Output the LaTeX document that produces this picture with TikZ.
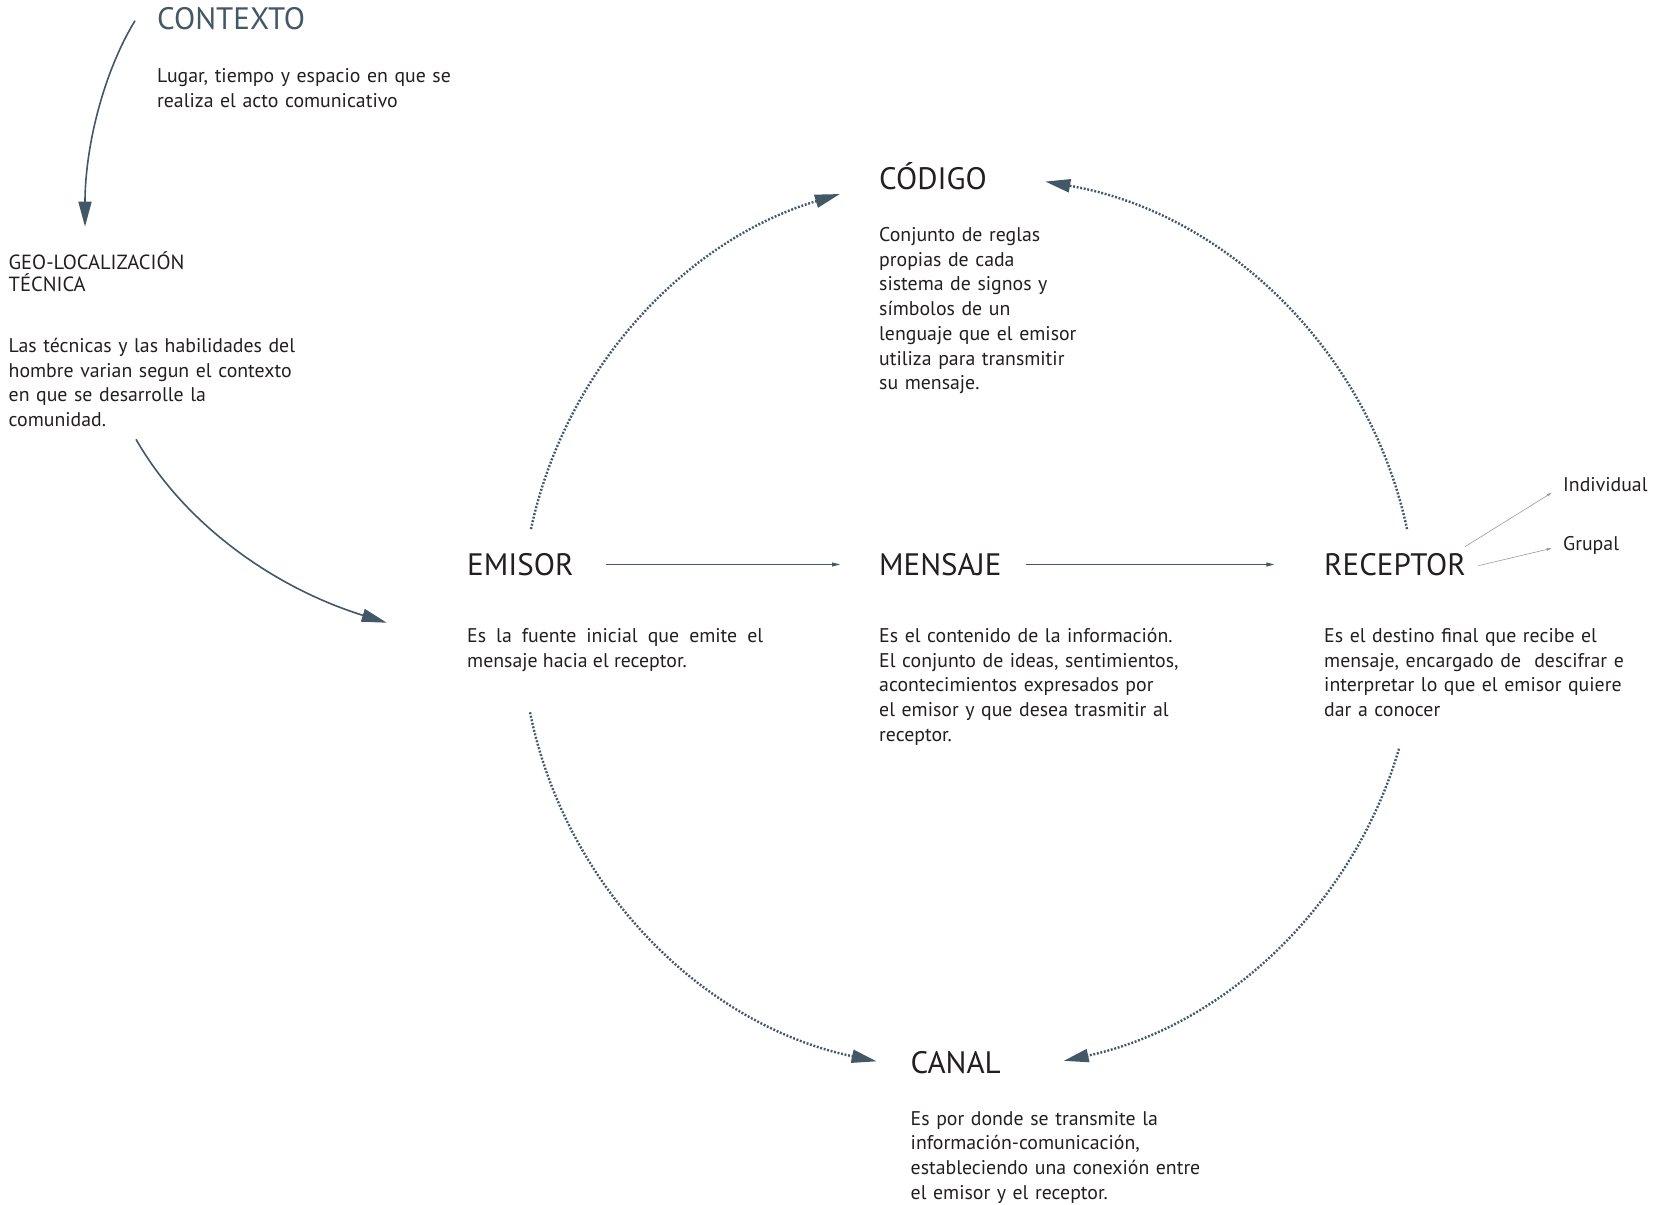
\documentclass[tikz,border=0pt]{standalone}
\usepackage{fontspec}
\setmainfont{PT Sans}
\usetikzlibrary{arrows.meta}
\definecolor{slate}{HTML}{435866}
\definecolor{ink}{HTML}{231F20}
\definecolor{thingray}{HTML}{9A9A9A}
\begin{document}
\begin{tikzpicture}[x=1pt,y=-1pt,
  titletext/.style={anchor=base west, inner sep=0pt, font=\fontsize{31}{37}\selectfont, text=ink},
  bodytext/.style={anchor=base west, inner sep=0pt, font=\fontsize{19.8}{24.7}\selectfont, text=ink, text width=420pt, align=left},
  labeltext/.style={anchor=base west, inner sep=0pt, font=\fontsize{19.8}{24.7}\selectfont, text=ink},
  bigarrow/.style={draw=slate, line width=1.6pt, -{Triangle[length=25pt,width=13pt]}},
  dotarrow/.style={draw=slate, line width=2.4pt, dash pattern=on 1.9pt off 1.7pt, -{Triangle[length=25pt,width=13pt]}},
  flowarrow/.style={draw=slate, line width=0.9pt, -{Triangle[length=8pt,width=4pt]}},
  sidearrow/.style={draw=thingray, line width=0.6pt, -{Triangle[length=5pt,width=2.5pt]}}
]
\useasboundingbox (0,0) rectangle (1666,1205);
\fill[white] (0,0) rectangle (1666,1205);

% texts
\node[titletext, text=slate] (contexto) at (157,29) {CONTEXTO};
\node[bodytext] (contextobody) at (157,82.5) {Lugar, tiempo y espacio en que se\\realiza el acto comunicativo};
\node[bodytext, font=\fontsize{20.5}{22.5}\selectfont] (geo) at (8.5,269) {GEO-LOCALIZACIÓN\\TÉCNICA};
\node[bodytext] (geobody) at (8.5,352.5) {Las técnicas y las habilidades del\\hombre varian segun el contexto\\en que se desarrolle la\\comunidad.};

\node[titletext] (codigo) at (879,189.5) {CÓDIGO};
\node[bodytext] (codigobody) at (879,241.5) {Conjunto de reglas\\propias de cada\\sistema de signos y\\símbolos de un\\lenguaje que el emisor\\utiliza para transmitir\\su mensaje.};

\node[titletext] (emisor) at (467,575) {EMISOR};
\node[bodytext, text width=296pt, align=justify] (emisorbody) at (467,642.5) {Es la fuente inicial que emite el\linebreak mensaje hacia el receptor.};

\node[titletext] (mensaje) at (879,575) {MENSAJE};
\node[bodytext] (mensajebody) at (879,642.5) {Es el contenido de la información.\\El conjunto de ideas, sentimientos,\\acontecimientos expresados por\\el emisor y que desea trasmitir al\\receptor.};

\node[titletext] (receptor) at (1324,575) {RECEPTOR};
\node[bodytext, text width=330pt] (receptorbody) at (1324,642.5) {Es el destino final que recibe el\\mensaje, encargado de\ \ descifrar e\\interpretar lo que el emisor quiere\\dar a conocer};

\node[titletext] (canal) at (910.5,1073.5) {CANAL};
\node[bodytext] (canalbody) at (910.5,1125) {Es por donde se transmite la\\información-comunicación,\\estableciendo una conexión entre\\el emisor y el receptor.};

\node[labeltext] (individual) at (1563,491) {Individual};
\node[labeltext] (grupal) at (1563,550) {Grupal};

% solid curved arrows
\coordinate (ctxS) at (135,20.7);
\coordinate (ctxE) at (85,226.7);
\draw[bigarrow] (ctxS) .. controls (102,75) and (85,150) .. (ctxE);
\coordinate (geoS) at (136,439.3);
\coordinate (geoE) at (386.7,622.7);
\draw[bigarrow] (geoS) .. controls (185,525) and (275,588) .. (geoE);

% flow arrows
\coordinate (emR) at (605.7,564.5);
\coordinate (meL) at (840,564.5);
\coordinate (meR) at (1025.7,564.5);
\coordinate (reL) at (1274.3,564.5);
\draw[flowarrow] (emR) -- (meL);
\draw[flowarrow] (meR) -- (reL);

% side arrows
\coordinate (reI) at (1465,546.7);
\coordinate (inL) at (1551.7,492.7);
\coordinate (reG) at (1478.3,565.7);
\coordinate (grL) at (1551.7,548.3);
\draw[sidearrow] (reI) -- (inL);
\draw[sidearrow] (reG) -- (grL);

% dotted circular arcs
\coordinate (O) at (969,623);
\path (O) ++(-167.9:448) coordinate (emT);
\path (O) ++(-12.1:448) coordinate (reT);
\path (O) ++(168.5:448) coordinate (emB);
\path (O) ++(16.3:448) coordinate (reB);
\draw[dotarrow] (emT) arc[start angle=-167.9, end angle=-106.75, radius=448];
\draw[dotarrow] (reT) arc[start angle=-12.1, end angle=-80.2, radius=448];
\draw[dotarrow] (emB) arc[start angle=168.5, end angle=101.9, radius=448];
\draw[dotarrow] (reB) arc[start angle=16.3, end angle=77.8, radius=448];
\end{tikzpicture}
\end{document}
